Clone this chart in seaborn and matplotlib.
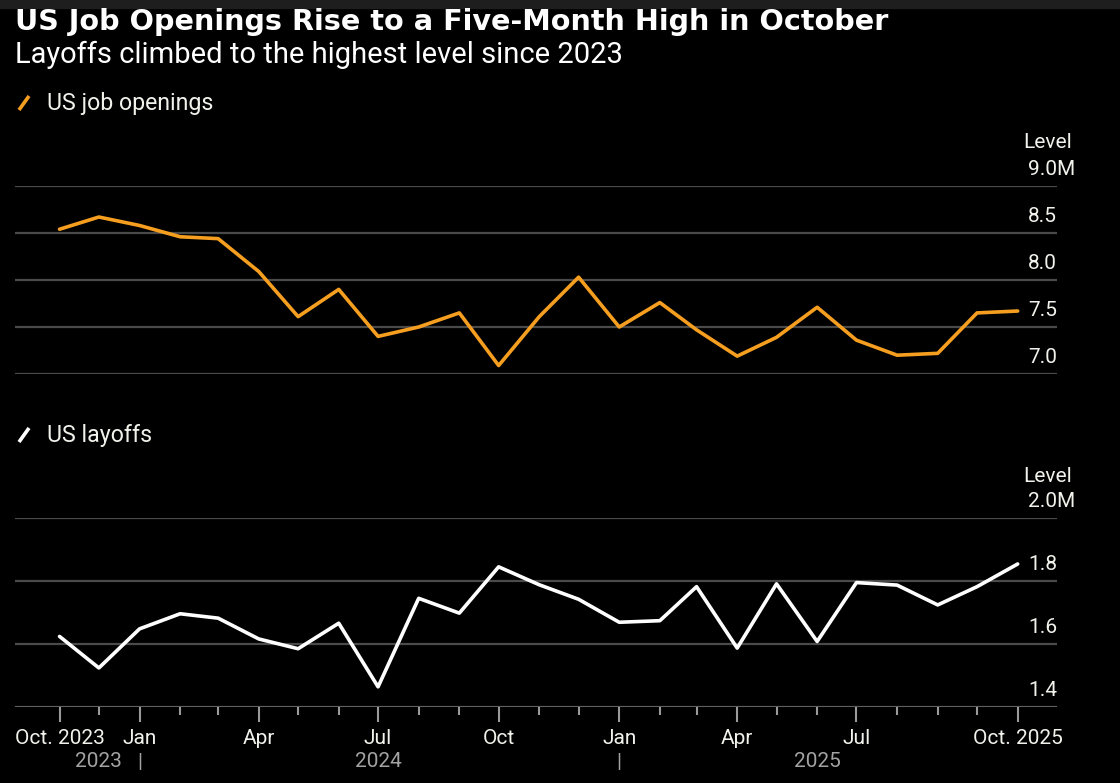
import pandas as pd
import numpy as np
import matplotlib.pyplot as plt
import seaborn as sns
from matplotlib.lines import Line2D
from matplotlib.patches import Rectangle
from matplotlib.transforms import ScaledTranslation, blended_transform_factory

# Data (millions), monthly Oct 2023 - Oct 2025
bulan = pd.date_range('2023-10-31', periods=25, freq='ME')
job_openings = [8.54, 8.67, 8.58, 8.46, 8.44, 8.09, 7.61, 7.90, 7.40, 7.50,
                7.65, 7.09, 7.61, 8.03, 7.50, 7.76, 7.47, 7.19, 7.39, 7.71,
                7.36, 7.20, 7.22, 7.65, 7.67]
layoffs = [1.624, 1.524, 1.648, 1.696, 1.682, 1.616, 1.585, 1.666, 1.464, 1.745,
           1.698, 1.845, 1.788, 1.742, 1.669, 1.674, 1.782, 1.587, 1.791, 1.608,
           1.795, 1.787, 1.724, 1.782, 1.854]

yticks_top = [7.0, 7.5, 8.0, 8.5, 9.0]
ylabels_top = ['7.0', '7.5', '8.0', '8.5', '9.0M']
yticks_bot = [1.4, 1.6, 1.8, 2.0]
ylabels_bot = ['1.4', '1.6', '1.8', '2.0M']

# x labels: index into bulan -> label
xlabel_idx = [0, 2, 5, 8, 11, 14, 17, 20, 24]
xlabel_txt = ['Oct. 2023', 'Jan', 'Apr', 'Jul', 'Oct', 'Jan', 'Apr', 'Jul', 'Oct. 2025']
tahun_idx = [1, 8, 19]
tahun_txt = ['2023', '2024', '2025']
pemisah_idx = [2, 14]

df = pd.DataFrame({'bulan': bulan, 'openings': job_openings, 'layoffs': layoffs})

ORANGE = '#f59e1f'
GRID = '#4a4a4a'
TEKS = '#f2f2ec'
ABU = '#a3a3a3'

sns.set_theme(style='dark', rc={'axes.facecolor': 'black', 'figure.facecolor': 'black'})
plt.rcParams['font.family'] = ['Roboto', 'DejaVu Sans']

W, H = 1120, 783
fig = plt.figure(figsize=(W / 100, H / 100), dpi=100)

def px(x, y):
    return x / W, 1 - y / H

# strip gelap di atas (screenshot)
fig.patches.append(Rectangle((0, 1 - 8 / H), 1, 8 / H, transform=fig.transFigure,
                             color='#1e1e1e', zorder=0))

left, right = 15 / W, 1057 / W
ax1 = fig.add_axes([left, 1 - 374 / H, right - left, (374 - 186) / H])
ax2 = fig.add_axes([left, 1 - 707 / H, right - left, (707 - 518) / H])

sns.lineplot(data=df, x='bulan', y='openings', ax=ax1, color=ORANGE, linewidth=2.6)
sns.lineplot(data=df, x='bulan', y='layoffs', ax=ax2, color='white', linewidth=2.6)

xmin = bulan[0] - pd.Timedelta(days=34)
xmax = bulan[-1] + pd.Timedelta(days=30)

for ax, yt, yl in [(ax1, yticks_top, ylabels_top), (ax2, yticks_bot, ylabels_bot)]:
    ax.set_facecolor('black')
    ax.set_xlim(xmin, xmax)
    ax.set_ylim(yt[0], yt[-1])
    ax.set_xlabel('')
    ax.set_ylabel('')
    for s in ax.spines.values():
        s.set_visible(False)
    ax.yaxis.tick_right()
    ax.set_yticks(yt, yl)
    ax.tick_params(axis='y', length=0, pad=-29 * 0.72, labelsize=15, labelcolor=TEKS,
                   labelright=True, labelleft=False)
    for lbl in ax.get_yticklabels():
        lbl.set_horizontalalignment('left')
        lbl.set_verticalalignment('baseline')
        lbl.set_transform(lbl.get_transform() + ScaledTranslation(0, 8 / 72, fig.dpi_scale_trans))
    ax.grid(False)
    for v in yt:
        ax.axhline(v, color=GRID, linewidth=1.6, zorder=0)

# panel atas tanpa label x
ax1.set_xticks([])

# panel bawah: tick tiap bulan, label di bulan tertentu
ax2.set_xticks([bulan[i] for i in xlabel_idx], xlabel_txt)
ax2.set_xticks([bulan[i] for i in range(len(bulan)) if i not in xlabel_idx], minor=True)
ax2.tick_params(axis='x', which='major', length=11, width=1.5, color='#9a9a9a',
                labelsize=15, labelcolor=TEKS, pad=5, bottom=True)
ax2.tick_params(axis='x', which='minor', length=6, width=1.5, color='#9a9a9a', bottom=True)
ax2.axhline(yticks_bot[0], color='#666666', linewidth=1.8, zorder=1)

trans = blended_transform_factory(ax2.transData, fig.transFigure)
for i, t in zip(tahun_idx, tahun_txt):
    ax2.text(bulan[i], 1 - 767 / H, t, transform=trans, ha='center', va='baseline',
             fontsize=15, color=ABU)
for i in pemisah_idx:
    ax2.text(bulan[i], 1 - 768 / H, '|', transform=trans, ha='center', va='baseline',
             fontsize=15, color=ABU)

# judul
fig.text(*px(15, 30), 'US Job Openings Rise to a Five-Month High in October',
         fontsize=20.6, fontweight='bold', color='white', va='baseline', family='DejaVu Sans')
fig.text(*px(15, 63), 'Layoffs climbed to the highest level since 2023',
         fontsize=21, color='white', va='baseline')

# legenda manual
for (y_base, warna, label) in [(110, ORANGE, 'US job openings'), (442, 'white', 'US layoffs')]:
    x0, y0 = px(19, y_base)
    x1, y1 = px(29, y_base - 14)
    fig.add_artist(Line2D([x0, x1], [y0, y1], transform=fig.transFigure, color=warna,
                          linewidth=2.6, solid_capstyle='butt'))
    fig.text(*px(47, y_base), label, fontsize=16.7, color=TEKS, va='baseline')

# label "Level"
for y_base in [148, 482]:
    fig.text(*px(1072, y_base), 'Level', fontsize=15, color=TEKS, ha='right', va='baseline')

plt.savefig('out.png', dpi=100, facecolor='black')
